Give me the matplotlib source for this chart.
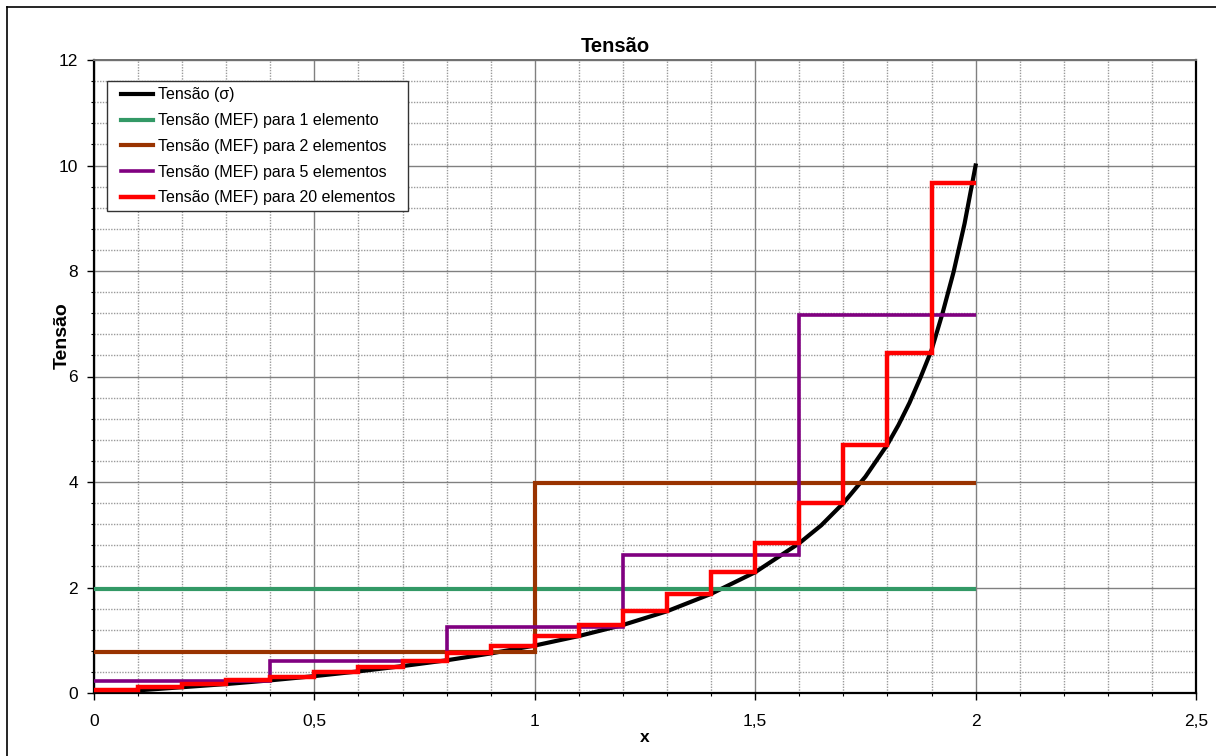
import numpy as np
import matplotlib.pyplot as plt
from matplotlib.lines import Line2D
from matplotlib.patches import Rectangle

plt.rcParams['font.family'] = ['Liberation Sans', 'DejaVu Sans']

# analytical stress curve
x_sigma = [0, 0.1, 0.2, 0.3, 0.4, 0.5, 0.6, 0.7, 0.8, 0.9, 1.0,
           1.1, 1.2, 1.3, 1.4, 1.5, 1.6, 1.65, 1.7, 1.75, 1.8, 1.825, 1.85,
           1.875, 1.9, 1.925, 1.95, 1.975, 2.0]
sigma = [0, 0.05, 0.11, 0.17, 0.24, 0.32, 0.41, 0.51, 0.62, 0.75, 0.90,
         1.08, 1.29, 1.55, 1.88, 2.29, 2.84, 3.18, 3.60, 4.10, 4.71, 5.08, 5.50,
         5.98, 6.50, 7.20, 7.98, 8.90, 10.0]

# element edges and constant stress per element (MEF)
edges_1 = [0, 2]
mef_1 = [1.98]
edges_2 = [0, 1, 2]
mef_2 = [0.77, 3.99]
edges_5 = [0, 0.4, 0.8, 1.2, 1.6, 2.0]
mef_5 = [0.23, 0.61, 1.25, 2.62, 7.16]
edges_20 = [0, 0.1, 0.2, 0.3, 0.4, 0.5, 0.6, 0.7, 0.8, 0.9, 1.0,
            1.1, 1.2, 1.3, 1.4, 1.5, 1.6, 1.7, 1.8, 1.9, 2.0]
mef_20 = [0.05, 0.11, 0.17, 0.24, 0.31, 0.40, 0.50, 0.61, 0.75, 0.90,
          1.08, 1.28, 1.55, 1.88, 2.29, 2.84, 3.60, 4.70, 6.44, 9.66]

labels = ['Tensão (σ)',
          'Tensão (MEF) para 1 elemento',
          'Tensão (MEF) para 2 elementos',
          'Tensão (MEF) para 5 elementos',
          'Tensão (MEF) para 20 elementos']

x_ticks = [0, 0.5, 1, 1.5, 2, 2.5]
x_ticklabels = ['0', '0,5', '1', '1,5', '2', '2,5']
y_ticks = [0, 2, 4, 6, 8, 10, 12]

W, H = 1216, 756
fig = plt.figure(figsize=(W / 100, H / 100), dpi=100)
ax = fig.add_axes([94 / W, 1 - 693 / H, (1196 - 94) / W, (693 - 60) / H])

ax.plot(x_sigma, sigma, color='black', lw=3, label=labels[0], zorder=3,
        solid_joinstyle='round')
ax.stairs(mef_1, edges_1, baseline=None, color='#339966', lw=3, label=labels[1], zorder=4)
ax.stairs(mef_2, edges_2, baseline=None, color='#993300', lw=3, label=labels[2], zorder=5)
ax.stairs(mef_5, edges_5, baseline=None, color='#800080', lw=2.6, label=labels[3], zorder=6)
ax.stairs(mef_20, edges_20, baseline=None, color='#FF0000', lw=3.2, label=labels[4], zorder=7)

ax.set_xlim(0, 2.5)
ax.set_ylim(0, 12)
ax.set_xticks(x_ticks)
ax.set_xticklabels(x_ticklabels)
ax.set_yticks(y_ticks)
ax.set_xticks(np.arange(0, 2.51, 0.1), minor=True)
ax.set_yticks(np.arange(0, 12.01, 0.4), minor=True)

ax.grid(which='major', color='#808080', lw=1.0, zorder=1)
ax.grid(which='minor', color='#9a9a9a', lw=1.0, linestyle=(0, (1, 1)), zorder=0)
ax.set_axisbelow(True)

ax.tick_params(axis='both', which='major', direction='out', length=5,
               width=1, labelsize=12.5)
ax.tick_params(axis='x', which='major', pad=10)
ax.tick_params(axis='y', which='major', pad=6.5)
ax.tick_params(axis='both', which='minor', direction='out', length=2.5, width=0.8)

for side in ['left', 'bottom', 'right']:
    ax.spines[side].set_color('black')
    ax.spines[side].set_linewidth(1.6)
ax.spines['top'].set_color('#707070')
ax.spines['top'].set_linewidth(1.4)

# legend box drawn separately so the inner padding can match the original
frame = Rectangle((107 / W, 1 - 211 / H), (408 - 107) / W, (211 - 81) / H,
                  transform=fig.transFigure, facecolor='white',
                  edgecolor='#333333', lw=1.0, zorder=1)
fig.add_artist(frame)
handles, _ = ax.get_legend_handles_labels()
leg = fig.legend(handles, labels, loc='upper left',
                 bbox_to_anchor=(121 / W, 1 - 87.5 / H),
                 bbox_transform=fig.transFigure, borderaxespad=0,
                 fontsize=11.5, frameon=False, handlelength=2.0,
                 handletextpad=0.3, labelspacing=0.67, borderpad=0)
leg.set_zorder(2)

fig.text(615 / W, 1 - 51.7 / H, 'Tensão', ha='center', va='baseline',
         fontsize=14.5, fontweight='bold')
fig.text(645 / W, 1 - 742 / H, 'x', ha='center', va='baseline',
         fontsize=12.5, fontweight='bold')
fig.text(62 / W, 1 - 336 / H, 'Tensão', ha='center', va='center',
         rotation=90, fontsize=14, fontweight='bold')

# page frame around the chart
fig.add_artist(Line2D([7 / W, 7 / W], [0, 1 - 7 / H], color='black', lw=1.2))
fig.add_artist(Line2D([7 / W, 1], [1 - 7 / H, 1 - 7 / H], color='black', lw=1.2))

fig.savefig('out.png', dpi=100)
